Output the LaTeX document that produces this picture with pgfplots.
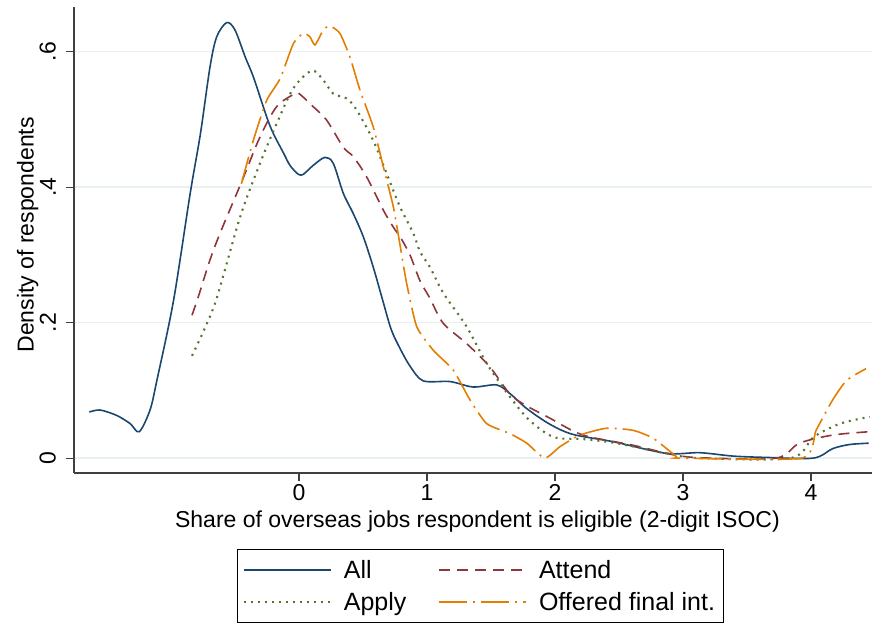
\documentclass[border=0pt]{standalone}
\usepackage{fontspec}
\setmainfont{Liberation Sans}
\usepackage{pgfplots}
\pgfplotsset{compat=1.18}

\definecolor{stnavy}{HTML}{1A476F}
\definecolor{stmaroon}{HTML}{90353B}
\definecolor{stgreen}{HTML}{55752F}
\definecolor{storange}{HTML}{E37E00}
\definecolor{gridc}{RGB}{232,240,242}
\definecolor{spine}{RGB}{64,64,64}

\newcommand{\sz}{\fontsize{23bp}{27bp}\selectfont}
\newcommand{\lsz}{\fontsize{25bp}{29bp}\selectfont}

\begin{document}
\begin{tikzpicture}
% page = 873 x 625, axis lower left at (74,473) of the image
\path[use as bounding box] (-74bp,-152bp) rectangle (799bp,473bp);
\begin{axis}[
    scale only axis,
    width=798bp, height=466bp,
    xmin=-1.758, xmax=4.477,
    ymin=-0.022, ymax=0.666,
    axis lines*=left,
    axis line style={spine, line width=1.2bp},
    tick style={spine, line width=1.2bp},
    tick align=outside,
    major tick length=8bp,
    xtick={0,1,2,3,4},
    ytick={0,0.2,0.4,0.6},
    yticklabels={0,.2,.4,.6},
    /pgf/number format/assume math mode=true,
    tick label style={font=\sz},
    yticklabel style={xshift=-10bp, rotate=90, anchor=south, inner sep=0pt},
    ymajorgrids,
    major grid style={gridc, line width=1.5bp},
    xlabel={Share of overseas jobs respondent is eligible (2-digit ISOC)},
    ylabel={Density of respondents},
    label style={font=\sz},
    xlabel style={at={(axis description cs:0.5056,-0.105)}, anchor=center},
    ylabel style={at={(axis description cs:-0.058,0.511)}, anchor=center},
    legend columns=2,
    legend cell align=left,
    legend style={
        font=\lsz,
        draw=black, line width=0.8bp,
        at={(axis description cs:0.509,-0.163)}, anchor=north,
        inner xsep=6bp, inner ysep=9bp,
        row sep=8bp,
        /tikz/every odd column/.append style={column sep=10bp},
        /tikz/every even column/.append style={column sep=30bp},
    },
    legend image code/.code={\draw[line width=1.6bp, #1] (0bp,0bp) -- (87bp,0bp);},
    clip=false,
]
\addplot[stnavy, line width=1.6bp, smooth, tension=0.5] coordinates {
(-1.638,0.068) (-1.555,0.071) (-1.424,0.063) (-1.32,0.051) (-1.248,0.039)
(-1.164,0.071) (-1.11,0.115) (-0.98,0.233) (-0.85,0.391) (-0.77,0.479)
(-0.695,0.578) (-0.643,0.622) (-0.565,0.643) (-0.50,0.632) (-0.42,0.592)
(-0.357,0.563) (-0.253,0.504) (-0.20,0.479) (-0.12,0.45) (-0.07,0.432)
(-0.005,0.419) (0.034,0.419) (0.11,0.432) (0.203,0.444) (0.268,0.435)
(0.346,0.391) (0.424,0.361) (0.502,0.327) (0.58,0.282) (0.654,0.233)
(0.72,0.19) (0.789,0.162) (0.87,0.135) (0.971,0.114) (1.18,0.113)
(1.36,0.105) (1.545,0.108) (1.65,0.095) (1.78,0.073) (1.96,0.050)
(2.14,0.035) (2.46,0.024) (2.87,0.007) (3.13,0.008) (3.39,0.003)
(3.65,0.001) (4.02,0.0) (4.17,0.014) (4.30,0.020) (4.45,0.022)
};
\addlegendentry{All}
\addplot[stmaroon, line width=1.6bp, dash pattern=on 11bp off 7bp, smooth, tension=0.5] coordinates {
(-0.836,0.211) (-0.787,0.238) (-0.70,0.29) (-0.617,0.332) (-0.448,0.408)
(-0.305,0.474) (-0.174,0.519) (-0.031,0.538) (0.008,0.537) (0.11,0.519)
(0.216,0.499) (0.346,0.459) (0.424,0.445) (0.529,0.415) (0.659,0.366)
(0.737,0.341) (0.789,0.327) (0.867,0.300) (0.945,0.262) (1.023,0.236)
(1.127,0.199) (1.31,0.169) (1.49,0.135) (1.674,0.090) (1.96,0.059)
(2.22,0.034) (2.61,0.019) (2.95,0.004) (3.21,0.0) (3.73,0.0)
(3.91,0.022) (4.17,0.034) (4.46,0.039)
};
\addlegendentry{Attend}
\addplot[stgreen, line width=2.1bp, dash pattern=on 2bp off 5bp, smooth, tension=0.5] coordinates {
(-0.836,0.151) (-0.74,0.19) (-0.643,0.236) (-0.46,0.356) (-0.305,0.435)
(-0.174,0.494) (-0.044,0.546) (0.099,0.572) (0.19,0.558) (0.268,0.538)
(0.372,0.531) (0.45,0.514) (0.58,0.469) (0.685,0.42) (0.789,0.371)
(0.893,0.332) (0.945,0.305) (1.023,0.282) (1.10,0.253) (1.154,0.236)
(1.31,0.194) (1.466,0.140) (1.65,0.090) (1.80,0.056) (1.99,0.031)
(2.22,0.028) (2.48,0.022) (2.87,0.007) (3.13,0.0) (3.84,0.0)
(4.02,0.031) (4.23,0.051) (4.46,0.061)
};
\addlegendentry{Apply}
\addplot[storange, line width=1.6bp, dash pattern=on 28bp off 6bp on 2bp off 6bp, smooth, tension=0.35] coordinates {
(-0.45,0.405) (-0.357,0.469) (-0.253,0.528) (-0.148,0.560) (-0.044,0.612)
(0.034,0.627) (0.085,0.622) (0.125,0.610) (0.19,0.632) (0.242,0.638)
(0.32,0.627) (0.398,0.592) (0.477,0.543) (0.58,0.489) (0.659,0.430)
(0.737,0.371) (0.789,0.315) (0.841,0.258) (0.92,0.194) (1.05,0.159)
(1.205,0.130) (1.336,0.086) (1.466,0.051) (1.65,0.036) (1.78,0.022)
(1.92,0.0) (2.04,0.017) (2.195,0.034) (2.40,0.044) (2.61,0.041)
(2.77,0.029) (2.95,0.002) (2.98,0.0) (3.93,0.0) (4.04,0.041)
(4.17,0.086) (4.28,0.115) (4.43,0.132)
};
\addlegendentry{Offered final int.}
\end{axis}
\end{tikzpicture}
\end{document}
